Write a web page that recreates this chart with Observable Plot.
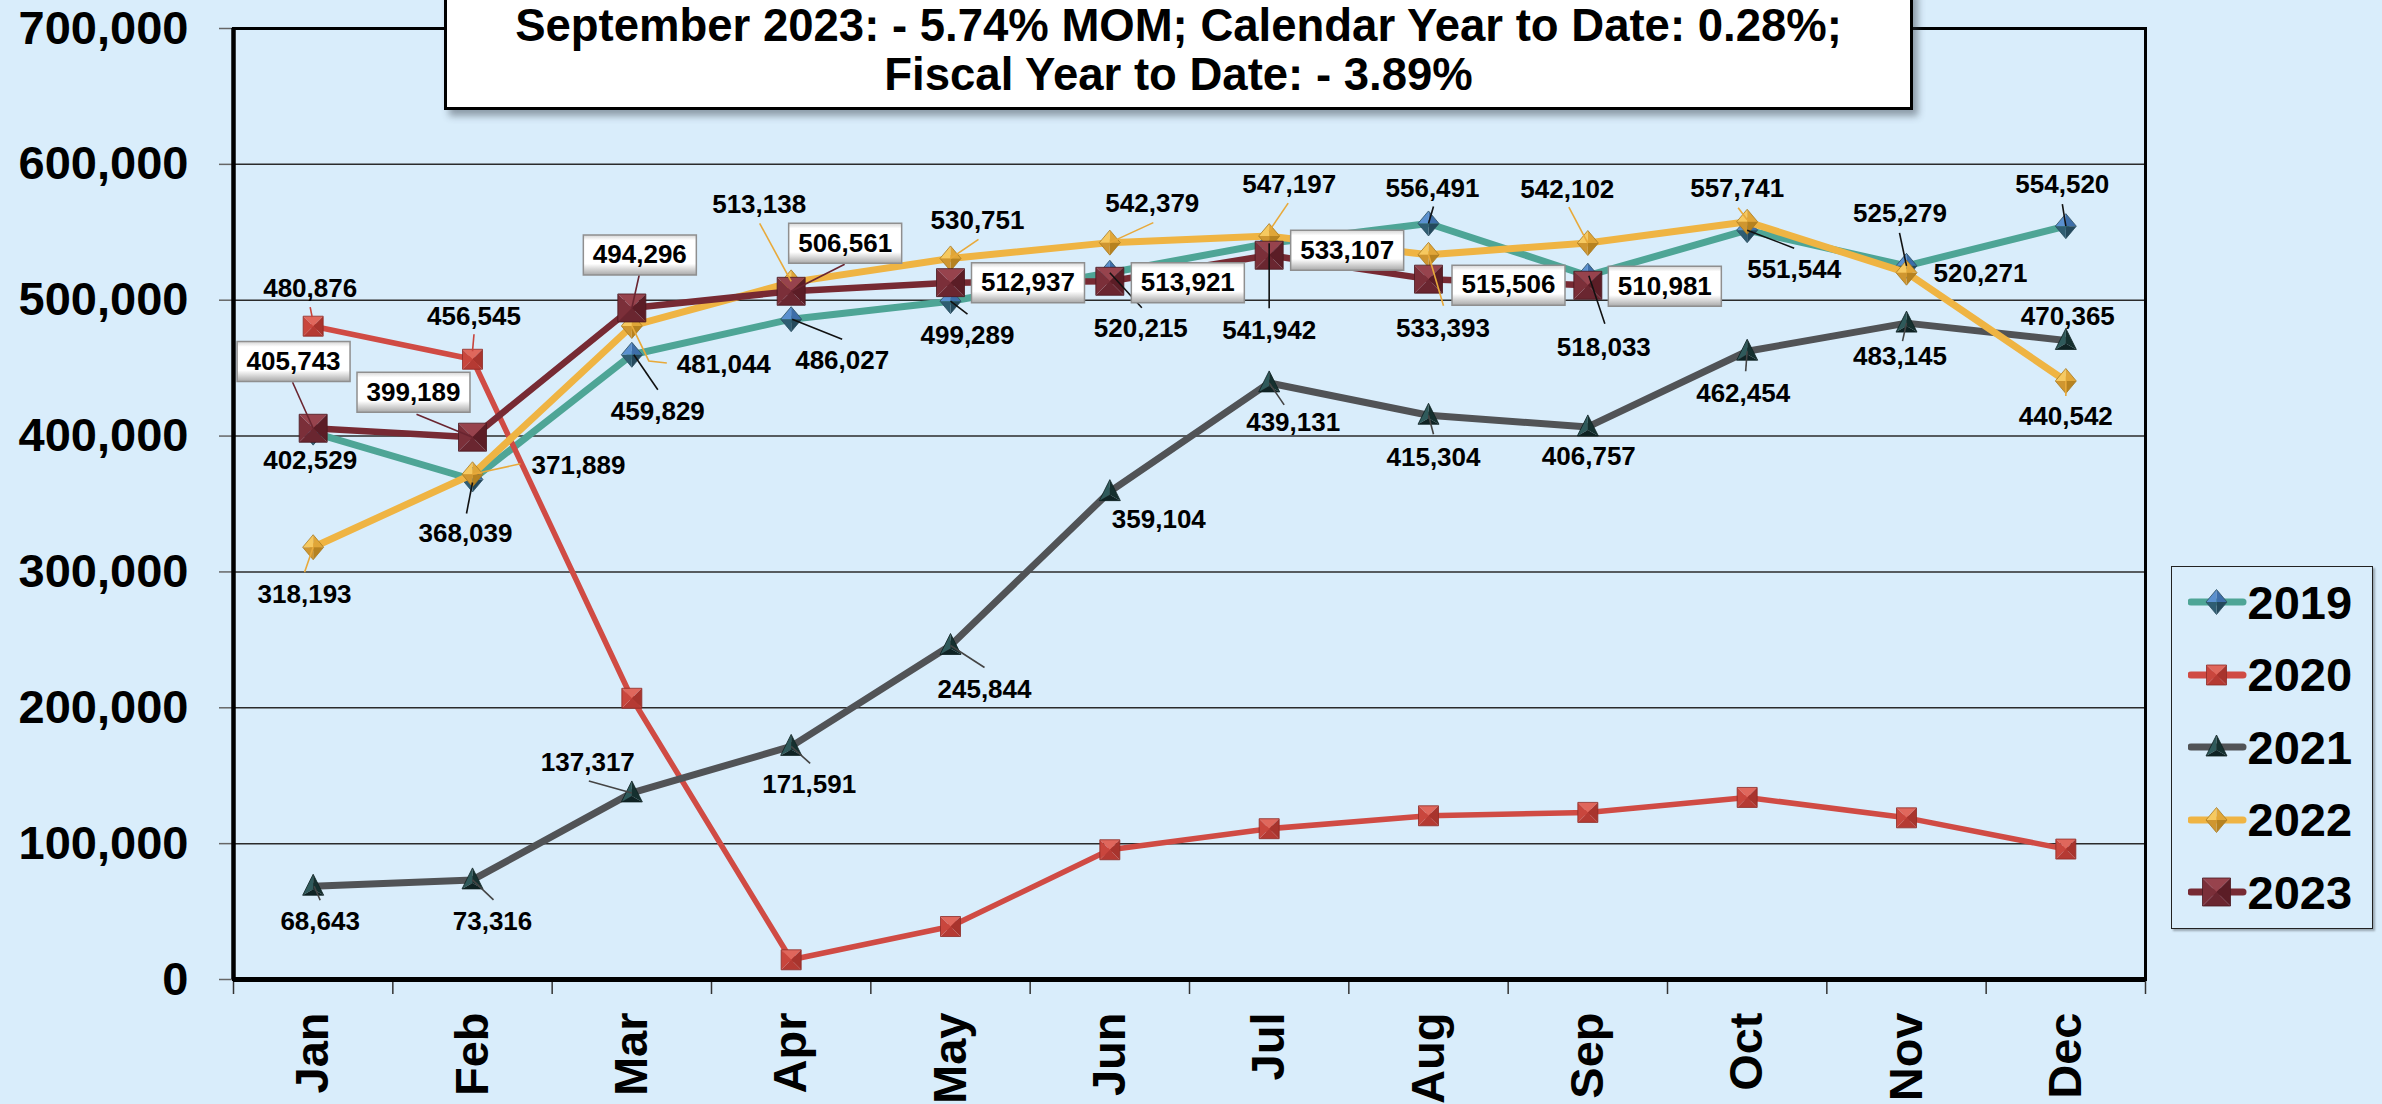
<!DOCTYPE html>
<html>
<head>
<meta charset="utf-8">
<script src="https://cdn.jsdelivr.net/npm/d3@7"></script>
<script src="https://cdn.jsdelivr.net/npm/@observablehq/plot@0.6"></script>
<style>
  html, body { margin: 0; padding: 0; background: #D9EDFB; width: 2382px; height: 1104px; overflow: hidden;
    font-family: "Liberation Sans", Arial, Helvetica, sans-serif; }
  #wrap { position: relative; width: 2382px; height: 1104px; }
  #chart { position: absolute; left: 0; top: 0; }
  #title { position: absolute; left: 444px; top: -12px; width: 1469px; height: 122px; box-sizing: border-box;
    border: 3px solid #000; background: #fff; box-shadow: 5px 6px 7px rgba(50,60,70,0.45);
    text-align: center; font-weight: bold; font-size: 45.5px; color: #000; }
  #title .l1 { position: absolute; left: 0; right: 0; top: 14.7px; line-height: 40px; height: 40px; }
  #title .l2 { position: absolute; left: 0; right: 0; top: 64.2px; line-height: 40px; height: 40px; }
  #legend { position: absolute; left: 2171px; top: 566px; width: 202px; height: 363px; box-sizing: border-box;
    border: 1.5px solid #222; box-shadow: 2px 2px 2px rgba(0,0,0,0.3); }
  .row { position: absolute; left: 15.5px; height: 50px; display: flex; align-items: center; }
  .row span { font-weight: bold; font-size: 47px; line-height: 1; color: #000; }
</style>
</head>
<body>
<svg width="0" height="0" style="position:absolute">
  <defs>
    <linearGradient id="boxGrad" x1="0" y1="0" x2="0" y2="1">
      <stop offset="0" stop-color="#d4d4d4"/>
      <stop offset="0.13" stop-color="#ffffff"/>
      <stop offset="0.72" stop-color="#ffffff"/>
      <stop offset="1" stop-color="#a9a9a9"/>
    </linearGradient>
  </defs>
</svg>
<div id="wrap">
  <div id="chart"></div>
  <div id="title"></div>
  <div id="legend"></div>
</div>
<script>
// ---------------- data ----------------
const months = ["Jan","Feb","Mar","Apr","May","Jun","Jul","Aug","Sep","Oct","Nov","Dec"];
const years = ["2019","2020","2021","2022","2023"];
const sales2019 = [402529,368039,459829,486027,499289,520215,541942,556491,518033,551544,525279,554520];
const sales2020 = [480876,456545,207000,14500,39000,95500,111000,120500,123000,134000,119000,96000];
const sales2021 = [68643,73316,137317,171591,245844,359104,439131,415304,406757,462454,483145,470365];
const sales2022 = [318193,371889,481044,513138,530751,542379,547197,533393,542102,557741,520271,440542];
const sales2023 = [405743,399189,494296,506561,512937,513921,533107,515506,510981];
const yTicks = [0,100000,200000,300000,400000,500000,600000,700000];
const titleLines = ["September 2023: - 5.74% MOM; Calendar Year to Date: 0.28%;", "Fiscal Year to Date: - 3.89%"];

// ---------------- label placement (pixel offsets from each point: [dx, dy, leader polyline]) ----------------
const place2019 = [
  [-3,28,null],[-7,54,[[0,3],[-6,34]]],[26,57,[[2,0],[26,35]]],[51,41,[[1,0],[51,20]]],
  [17,34,[[0,0],[17,13]]],[31,56,[[0,0],[32,35]]],[0,87,[[0,0],[0,65]]],[4,-35,[[0,0],[5,-17]]],
  [16,72,[[1,0],[17,48]]],[47,39,[[0,0],[47,18]]],[-6.5,-52,[[0,0],[-7,-33]]],[-3.5,-41,[[0,0],[-3.5,-22]]]
];
const place2020 = [
  [-3,-38,[[-1,-9],[-3,-19]]],[1.5,-43,[[0,-8],[1.5,-25]]],null,null,null,null,null,null,null,null,null,null
];
const place2021 = [
  [7,35,[[1,0],[7,14]]],[20,42,[[0,0],[21,20]]],[-44,-30,[[0,0],[-43,-12]]],[18,38,[[0,0],[19,17]]],
  [34,44,[[0,0],[34,22]]],[49,28,null],[24,40,[[0,0],[15,22]]],[5,42,[[0,0],[5,19]]],
  [1,30,null],[-4,42,[[0,0],[-1.5,20]]],[-6.5,34,[[0,0],[-4,18]]],[2,-24,null]
];
const place2022 = [
  [-8.6,47,[[0,0],[-8.6,25]]],[106,-9,[[0,0],[48,-10.5]]],[92,39,[[0,0],[17,35],[35,37]]],[-32,-77.5,[[0,-1],[-31.5,-59]]],
  [27,-38,[[0,0],[28,-19]]],[42.5,-39,[[0,0],[43.5,-20]]],[20,-51,[[0,-5],[19,-33]]],[14.5,74,[[0,0],[15,51]]],
  [-20.5,-53,[[0,0],[-19,-36]]],[-10,-33,[[0,-2],[-9,-14]]],[74,1,null],[0,36,[[0,0],[0,15]]]
];
const place2023 = [
  [-19.6,-66.7,[[0,0],[-20.6,-46]]],[-59,-45,[[0,0],[-56,-23]]],[8,-53,[[0,0],[7.6,-34]]],[54,-48,[[0,0],[53.5,-27]]],
  [77.5,0,null],[78,1.5,null],[78,-5,null],[80,6,null],[77,1,null]
];

// ---------------- styles ----------------
const styles = {
  "2019": {values: sales2019, place: place2019, line: "#4EA596", width: 7, shape: "diamond",
           shades: ["#5a90cf","#3d6ea9","#24495c","#2f5d72"], outline: "#2a4d5e", leader: "#111", boxed: false},
  "2020": {values: sales2020, place: place2020, line: "#D04B44", width: 5.5, shape: "square",
           shades: ["#e0675c","#a8342d","#b53a33","#c9463d"], outline: "#8e2b26", leader: "#c8443c", boxed: false},
  "2021": {values: sales2021, place: place2021, line: "#515356", width: 7, shape: "triangle",
           shades: ["#2f5a5b","#15302f","#0f2324"], outline: "#0d1f20", leader: "#444", boxed: false},
  "2022": {values: sales2022, place: place2022, line: "#EFB443", width: 7, shape: "diamond",
           shades: ["#f6c960","#e0a638","#b68220","#cf9630"], outline: "#a87a20", leader: "#e8a93a", boxed: false},
  "2023": {values: sales2023, place: place2023, line: "#772A33", width: 6.5, shape: "bigsquare",
           shades: ["#97434d","#5b1d26","#6a2630","#7b2f39"], outline: "#4a1820", leader: "#6a2530", boxed: true}
};

function facets(shape) {
  if (shape === "square" || shape === "bigsquare") {
    const s = shape === "square" ? 10 : 14;
    const TL=[-s,-s], TR=[s,-s], BR=[s,s], BL=[-s,s], C=[0,0];
    return {parts: [[TL,TR,C],[TR,BR,C],[BR,BL,C],[BL,TL,C]], outline: [TL,TR,BR,BL]};
  }
  if (shape === "diamond") {
    const a = 10.5, b = 12.5;
    const T=[0,-b], R=[a,0], B=[0,b], L=[-a,0], C=[0,0];
    return {parts: [[L,T,C],[T,R,C],[R,B,C],[B,L,C]], outline: [T,R,B,L]};
  }
  // triangle
  const T=[0,-12], R=[10.5,9], L=[-10.5,9], C=[0,3];
  return {parts: [[L,T,C],[T,R,C],[R,L,C]], outline: [T,R,L]};
}
const polySym = (pts, closed = true) => ({draw(ctx) {
  ctx.moveTo(pts[0][0], pts[0][1]);
  for (let k = 1; k < pts.length; k++) ctx.lineTo(pts[k][0], pts[k][1]);
  if (closed) ctx.closePath();
}});
const boxSym = {draw(ctx) { ctx.rect(-56.5, -20, 113, 40); }};
const fmt = d3.format(",");

// ---------------- marks ----------------
const marks = [
  Plot.gridY(yTicks, {stroke: "#2b2b2b", strokeOpacity: 1, strokeWidth: 1.5}),
  Plot.axisY(yTicks, {tickSize: 14, tickPadding: 31, tickFormat: fmt, fontSize: 47, fontWeight: "bold",
    stroke: "#666", strokeWidth: 1.5, fill: "#000", label: null}),
  Plot.axisX(d3.range(-0.5, 12, 1), {tickSize: 15, tickFormat: () => "", stroke: "#333", strokeWidth: 1.5, label: null}),
  Plot.axisX(d3.range(12), {tickSize: 0, tickPadding: 33, tickRotate: -90, tickFormat: i => months[i],
    fontSize: 47, fontWeight: "bold", fill: "#000", label: null})
];

const rowsOf = vals => vals.map((v, i) => ({i, v}));

for (const yr of years) {
  const st = styles[yr];
  const rows = rowsOf(st.values);
  marks.push(Plot.line(rows, {x: "i", y: "v", stroke: st.line, strokeWidth: st.width, strokeLinejoin: "round", strokeLinecap: "round"}));
  const f = facets(st.shape);
  f.parts.forEach((p, k) => marks.push(Plot.dot(rows, {x: "i", y: "v", r: 10, symbol: polySym(p), fill: st.shades[k], stroke: "none"})));
  marks.push(Plot.dot(rows, {x: "i", y: "v", r: 10, symbol: polySym(f.outline), fill: "none", stroke: st.outline, strokeWidth: 0.8}));
}

// frame on top of gridlines
marks.push(Plot.frame({stroke: "#000", strokeWidth: 3}));
marks.push(Plot.ruleX([-0.5], {stroke: "#000", strokeWidth: 4.5}));
marks.push(Plot.ruleY([0], {stroke: "#000", strokeWidth: 5}));

// labels
for (const yr of years) {
  const st = styles[yr];
  const rows = rowsOf(st.values);
  rows.forEach((r, i) => {
    const p = st.place[i];
    if (!p) return;
    const [dx, dy, leader] = p;
    if (leader) marks.push(Plot.dot([r], {x: "i", y: "v", r: 10, symbol: polySym(leader, false), fill: "none", stroke: st.leader, strokeWidth: 1.6}));
    if (st.boxed) marks.push(Plot.dot([r], {x: "i", y: "v", r: 10, symbol: boxSym, dx, dy, fill: "url(#boxGrad)", stroke: "#8f8f8f", strokeWidth: 1.5}));
    marks.push(Plot.text([r], {x: "i", y: "v", text: d => fmt(d.v), dx, dy, fontSize: 26, fontWeight: "bold", fill: "#000"}));
  });
}

const chart = Plot.plot({
  width: 2382, height: 1104,
  marginTop: 28, marginRight: 237, marginBottom: 125, marginLeft: 233,
  x: {type: "linear", domain: [-0.5, 11.5], axis: null},
  y: {type: "linear", domain: [0, 700000], axis: null},
  style: {background: "transparent", fontFamily: "Liberation Sans, Arial, Helvetica, sans-serif", overflow: "visible", color: "#000"},
  marks
});
document.getElementById("chart").appendChild(chart);

// title
const title = document.getElementById("title");
titleLines.forEach((t, k) => { const d = document.createElement("div"); d.className = "l" + (k + 1); d.textContent = t; title.appendChild(d); });

// legend
const legend = document.getElementById("legend");
years.forEach((yr, k) => {
  const st = styles[yr];
  const row = document.createElement("div");
  row.className = "row";
  row.style.top = (35.2 + 72.5 * k - 25) + "px";
  const ns = "http://www.w3.org/2000/svg";
  const svg = document.createElementNS(ns, "svg");
  svg.setAttribute("width", 60); svg.setAttribute("height", 50);
  const ln = document.createElementNS(ns, "line");
  ln.setAttribute("x1", 3); ln.setAttribute("x2", 55); ln.setAttribute("y1", 25); ln.setAttribute("y2", 25);
  ln.setAttribute("stroke", st.line); ln.setAttribute("stroke-width", 7); ln.setAttribute("stroke-linecap", "round");
  svg.appendChild(ln);
  const f = facets(st.shape);
  const toPath = (pts, close) => { const p = d3.path(); polySym(pts, close).draw(p); return p.toString(); };
  f.parts.forEach((pp, j) => {
    const e = document.createElementNS(ns, "path");
    e.setAttribute("d", toPath(pp, true)); e.setAttribute("fill", st.shades[j]);
    e.setAttribute("transform", "translate(28.5,25)");
    svg.appendChild(e);
  });
  const o = document.createElementNS(ns, "path");
  o.setAttribute("d", toPath(f.outline, true)); o.setAttribute("fill", "none"); o.setAttribute("stroke", st.outline);
  o.setAttribute("stroke-width", 0.8); o.setAttribute("transform", "translate(28.5,25)");
  svg.appendChild(o);
  row.appendChild(svg);
  const s = document.createElement("span"); s.textContent = yr; row.appendChild(s);
  legend.appendChild(row);
});
</script>
</body>
</html>
